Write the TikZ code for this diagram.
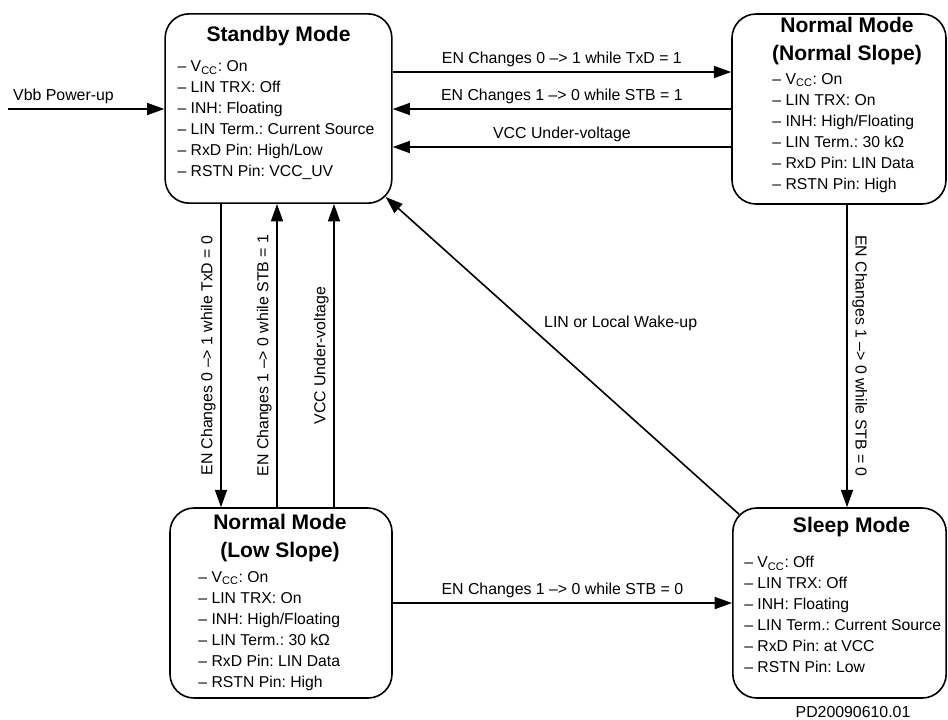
\documentclass[tikz,border=0pt]{standalone}
\usepackage{fontspec}
\setmainfont{Liberation Sans}
\usetikzlibrary{arrows.meta}
\frenchspacing

\begin{document}
\begin{tikzpicture}[x=0.75pt,y=-0.75pt,
	modebox/.style={
		draw, line width=1.2pt, rounded corners=18pt, inner sep=0pt
	},
	modetitle/.style={
		font=\fontsize{15.8}{21}\selectfont\bfseries, align=center, inner sep=0pt
	},
	modelist/.style={
		font=\fontsize{11.8}{15.75}\selectfont, align=left, inner sep=0pt, anchor=north west
	},
	trans/.style={
		line width=1.2pt, -{Triangle[length=13pt,width=9pt]}
	},
	translabel/.style={
		font=\fontsize{11.9}{14}\selectfont
	}]
	\useasboundingbox (0,0) rectangle (948,719);
	
	% Mode boxes
	\node[modebox, minimum width=170pt, minimum height=142pt] (standby) at (278.5,108.5) {};
	\node[modebox, minimum width=160.5pt, minimum height=142.5pt] (normal) at (839,109) {};
	\node[modebox, minimum width=166.5pt, minimum height=142.5pt] (lowslope) at (281,603) {};
	\node[modebox, minimum width=160pt, minimum height=142.5pt] (sleep) at (839.5,603) {};
	
	% Titles
	\node[modetitle, anchor=base] (standbytitle) at ([shift={(0,28)}]standby.north) {Standby Mode};
	\node[modetitle, anchor=north] (normaltitle) at ([shift={(8,4)}]normal.north) {Normal Mode\\(Normal Slope)};
	\node[modetitle, anchor=north] (lowtitle) at ([shift={(-1,7)}]lowslope.north) {Normal Mode\\(Low Slope)};
	\node[modetitle, anchor=base] (sleeptitle) at ([shift={(12,25.5)}]sleep.north) {Sleep Mode};
	
	% Pin states
	\node[modelist] (standbylist) at ([shift={(13,47.5)}]standby.north west)
		{\textendash{} V\textsubscript{CC}: On\\
		 \textendash{} LIN TRX: Off\\
		 \textendash{} INH: Floating\\
		 \textendash{} LIN Term.: Current Source\\
		 \textendash{} RxD Pin: High/Low\\
		 \textendash{} RSTN Pin: VCC\_UV};
	\node[modelist] (normallist) at ([shift={(41,60)}]normal.north west)
		{\textendash{} V\textsubscript{CC}: On\\
		 \textendash{} LIN TRX: On\\
		 \textendash{} INH: High/Floating\\
		 \textendash{} LIN Term.: 30 kΩ\\
		 \textendash{} RxD Pin: LIN Data\\
		 \textendash{} RSTN Pin: High};
	\node[modelist] (lowlist) at ([shift={(29,64)}]lowslope.north west)
		{\textendash{} V\textsubscript{CC}: On\\
		 \textendash{} LIN TRX: On\\
		 \textendash{} INH: High/Floating\\
		 \textendash{} LIN Term.: 30 kΩ\\
		 \textendash{} RxD Pin: LIN Data\\
		 \textendash{} RSTN Pin: High};
	\node[modelist] (sleeplist) at ([shift={(12,49)}]sleep.north west)
		{\textendash{} V\textsubscript{CC}: Off\\
		 \textendash{} LIN TRX: Off\\
		 \textendash{} INH: Floating\\
		 \textendash{} LIN Term.: Current Source\\
		 \textendash{} RxD Pin: at VCC\\
		 \textendash{} RSTN Pin: Low};
	
	% Rows and columns of the transitions
	\coordinate (r1) at (0,72);
	\coordinate (r2) at (0,109);
	\coordinate (r3) at (0,147);
	\coordinate (c1) at (221,0);
	\coordinate (c2) at (277,0);
	\coordinate (c3) at (334,0);
	\coordinate (c4) at (847,0);
	\coordinate (vbb) at (8,109);
	
	% Power-up
	\draw[trans] (vbb) -- node[translabel, at start, anchor=south west] (vbblabel) {Vbb Power-up} (standby.west |- vbb);
	
	% Standby <-> Normal Slope
	\draw[trans] (standby.east |- r1) -- node[translabel, above] (t1) {EN Changes 0 \textendash> 1 while TxD = 1} (normal.west |- r1);
	\draw[trans] (normal.west |- r2) -- node[translabel, above] (t2) {EN Changes 1 \textendash> 0 while STB = 1} (standby.east |- r2);
	\draw[trans] (normal.west |- r3) -- node[translabel, above] (t3) {VCC Under-voltage} (standby.east |- r3);
	
	% Standby <-> Low Slope
	\draw[trans] (standby.south -| c1) -- node[translabel, rotate=90, anchor=south] (t4) {EN Changes 0 \textendash> 1 while TxD = 0} (lowslope.north -| c1);
	\draw[trans] (lowslope.north -| c2) -- node[translabel, rotate=90, anchor=south] (t5) {EN Changes 1 \textendash> 0 while STB = 1} (standby.south -| c2);
	\draw[trans] (lowslope.north -| c3) -- node[translabel, rotate=90, anchor=south] (t6) {VCC Under-voltage} (standby.south -| c3);
	
	% Into sleep and back
	\draw[trans] (normal.south -| c4) -- node[translabel, rotate=-90, anchor=south] (t7) {EN Changes 1 \textendash> 0 while STB = 0} (sleep.north -| c4);
	\draw[trans] (lowslope.east) -- node[translabel, above] (t8) {EN Changes 1 \textendash> 0 while STB = 0} (sleep.west);
	\draw[trans] ([shift={(7,7)}]sleep.north west) -- node[translabel, pos=0.6, anchor=west, xshift=9pt] (t9) {LIN or Local Wake-up} ([shift={(-7,-7)}]standby.south east);
	
	% Drawing number
	\node[translabel, anchor=base] (docid) at (853,717) {PD20090610.01};
\end{tikzpicture}
\end{document}
